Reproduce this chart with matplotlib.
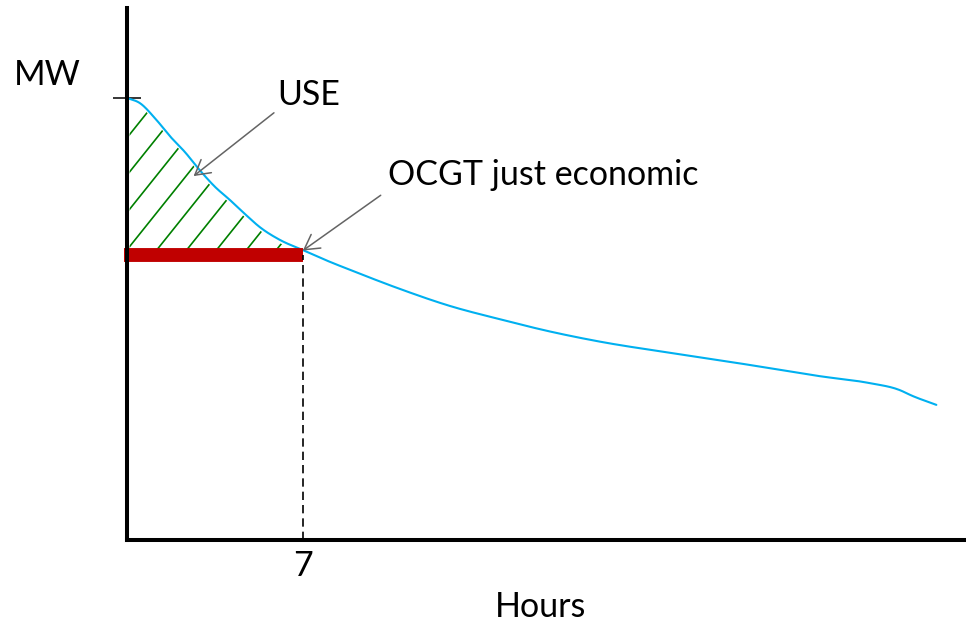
import numpy as np
import matplotlib
matplotlib.use('Agg')
import matplotlib.pyplot as plt
from matplotlib.patches import Polygon

# load duration curve (hours, MW in arbitrary units)
hours = [0.0, 0.52, 1.11, 1.71, 2.31, 2.90, 3.50, 4.10, 4.69, 5.29, 6.09,
         7.00, 8.07, 8.87, 10.86, 12.85, 14.84, 16.83, 18.81, 21.60, 23.59,
         25.58, 27.57, 29.55, 30.75, 31.26, 32.22]
load_mw = [83.1, 82.1, 79.3, 75.9, 72.9, 69.5, 66.4, 63.9, 61.3, 58.8, 56.4,
           54.5, 52.3, 50.8, 47.2, 44.0, 41.5, 39.2, 37.3, 35.2, 33.8,
           32.3, 30.8, 29.5, 28.2, 27.1, 25.4]

ocgt_hours = 7          # OCGT just economic at 7 h
ocgt_level = 53.6       # MW level of the red bar
x_max = 33.4
y_max = 100

use_label = 'USE'
ocgt_label = 'OCGT just economic'
x_label = 'Hours'
y_label = 'MW'


def smooth_curve(x, y, n=20):
    """Cubic Hermite through the read-off points, so the sketch looks drawn."""
    x = np.asarray(x, float)
    y = np.asarray(y, float)
    m = np.gradient(y, x)
    t = np.linspace(0, 1, n, endpoint=False)
    h00 = 2 * t**3 - 3 * t**2 + 1
    h10 = t**3 - 2 * t**2 + t
    h01 = -2 * t**3 + 3 * t**2
    h11 = t**3 - t**2
    xs, ys = [], []
    for i in range(len(x) - 1):
        h = x[i + 1] - x[i]
        xs.append(x[i] + t * h)
        ys.append(h00 * y[i] + h10 * h * m[i] + h01 * y[i + 1] + h11 * h * m[i + 1])
    xs.append([x[-1]])
    ys.append([y[-1]])
    return np.concatenate(xs), np.concatenate(ys)


plt.rcParams['font.family'] = ['Lato', 'DejaVu Sans']
plt.rcParams['font.size'] = 24.5

fig = plt.figure(figsize=(9.66, 6.22), dpi=100)
ax = fig.add_axes([127 / 966, 82 / 622, 839 / 966, 532 / 622])
ax.set_xlim(0, x_max)
ax.set_ylim(0, y_max)

for side in ('top', 'right'):
    ax.spines[side].set_visible(False)
for side in ('left', 'bottom'):
    ax.spines[side].set_linewidth(2.9)

cx, cy = smooth_curve(hours, load_mw)

# hatched USE area between curve and OCGT level (drawn as clipped lines)
inside = (cx >= 0.08) & (cx <= ocgt_hours)
hx = cx[inside]
hy = cy[inside] - 0.6
verts = np.column_stack([np.r_[hx, hx[::-1]],
                         np.r_[hy, np.full_like(hx, ocgt_level)]])
clip = Polygon(verts, closed=True, fill=False, edgecolor='none',
               transform=ax.transData)
ax.add_patch(clip)
hatch_slope = 5.9
hatch_step = 1.19
for k in range(-6, 6):
    x0 = 1.03 + hatch_step * k
    ln, = ax.plot([x0, x0 + (y_max - ocgt_level) / hatch_slope],
                  [ocgt_level, y_max], color='#008000', lw=1.2)
    ln.set_clip_path(clip)

ax.plot(cx, cy, color='#00B0F0', lw=1.5, solid_capstyle='round')

ax.plot([-0.1, ocgt_hours], [ocgt_level, ocgt_level], color='#C00000', lw=10,
        solid_capstyle='butt', clip_on=False)
ax.plot([ocgt_hours, ocgt_hours], [0, ocgt_level], color='black', lw=1.2,
        ls=(0, (5, 3)))

ax.set_xticks([ocgt_hours])
ax.set_xticklabels([str(ocgt_hours)])
ax.tick_params(axis='x', length=0, pad=7)
ax.set_yticks([load_mw[0]])
ax.set_yticklabels([''])
ax.tick_params(axis='y', direction='inout', length=20, width=1.1)

ax.set_xlabel(x_label)
ax.xaxis.set_label_coords(0.493, -0.095)
ax.set_ylabel(y_label, rotation=0, va='center')
ax.yaxis.set_label_coords(-0.095, 0.874)

arrow = dict(arrowstyle='->,head_length=1.05,head_width=0.6',
             color='#646464', lw=1.1, mutation_scale=10,
             shrinkA=0, shrinkB=0)
ax.annotate('', xy=(2.65, 68.4), xytext=(5.85, 80.3), arrowprops=arrow)
ax.text(6.0, 81.8, use_label, ha='left', va='baseline')
ax.annotate('', xy=(7.0, 54.4), xytext=(10.1, 64.8), arrowprops=arrow)
ax.text(10.38, 66.7, ocgt_label, ha='left', va='baseline')

fig.savefig('out.png', dpi=100)
